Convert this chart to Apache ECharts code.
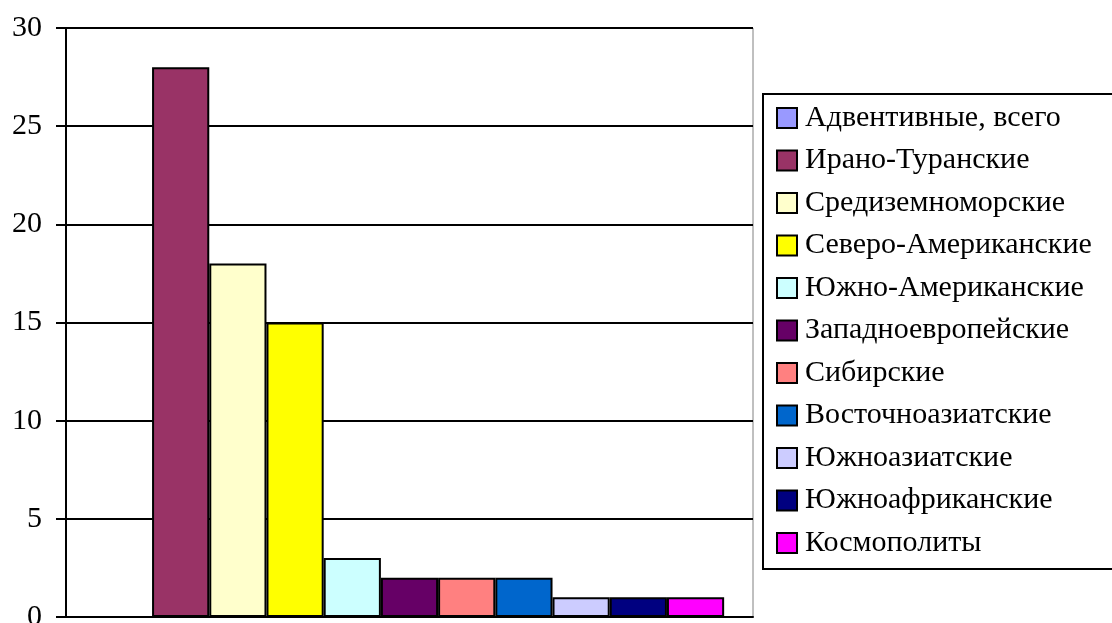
<!DOCTYPE html>
<html>
<head>
<meta charset="utf-8">
<script src="https://cdn.jsdelivr.net/npm/echarts@6/dist/echarts.min.js"></script>
<style>
  html, body { margin: 0; padding: 0; background: #fff; }
  #chart { width: 1112px; height: 623px; }
</style>
</head>
<body>
<div id="chart"></div>
<script>
// series names (legend order)
let names = [
  "Адвентивные, всего",
  "Ирано-Туранские",
  "Средиземноморские",
  "Северо-Американские",
  "Южно-Американские",
  "Западноевропейские",
  "Сибирские",
  "Восточноазиатские",
  "Южноазиатские",
  "Южноафриканские",
  "Космополиты"
];
// one value per series (first bar is not drawn in the original)
let values = [null, 28, 18, 15, 3, 2, 2, 2, 1, 1, 1];
let colors = [
  "#9999FF", "#993366", "#FFFFCC", "#FFFF00", "#CCFFFF", "#660066",
  "#FF8080", "#0066CC", "#CCCCFF", "#000080", "#FF00FF"
];
let yTicks = [0, 5, 10, 15, 20, 25, 30];

let font = "Liberation Serif";

let series = names.map((name, i) => ({
  name: name,
  type: "bar",
  data: [values[i]],
  barGap: "0%",
  barCategoryGap: "8.4%",
  itemStyle: {
    color: colors[i],
    borderColor: "#000",
    borderWidth: 2
  }
}));

let option = {
  backgroundColor: "#fff",
  animation: false,
  grid: {
    left: 66,
    right: 359,
    top: 28,
    bottom: 6,
    outerBoundsMode: "none",
    containLabel: false,
    show: true,
    borderColor: "#808080",
    borderWidth: 1
  },
  legend: {
    orient: "vertical",
    left: 763,
    top: 94,
    padding: [9, 30, 11, 13],
    itemGap: 12.5,
    itemWidth: 20,
    itemHeight: 20,
    icon: "rect",
    borderColor: "#000",
    borderWidth: 2,
    data: names,
    textStyle: {
      fontFamily: font,
      fontSize: 30,
      color: "#000",
      padding: [0, 0, 0, 3]
    }
  },
  xAxis: {
    type: "category",
    data: [""],
    axisLine: { show: true, lineStyle: { color: "#000", width: 2 } },
    axisTick: { show: false },
    axisLabel: { show: false }
  },
  yAxis: {
    type: "value",
    min: yTicks[0],
    max: yTicks[yTicks.length - 1],
    interval: 5,
    axisLine: { show: true, lineStyle: { color: "#000", width: 2 } },
    axisTick: { show: true, length: 10, lineStyle: { color: "#000", width: 2 } },
    axisLabel: {
      margin: 24,
      fontFamily: font,
      fontSize: 30,
      color: "#000"
    },
    splitLine: { show: true, lineStyle: { color: "#000", width: 2 } }
  },
  series: series
};

let myChart = echarts.init(document.getElementById("chart"));
myChart.setOption(option);
</script>
</body>
</html>
